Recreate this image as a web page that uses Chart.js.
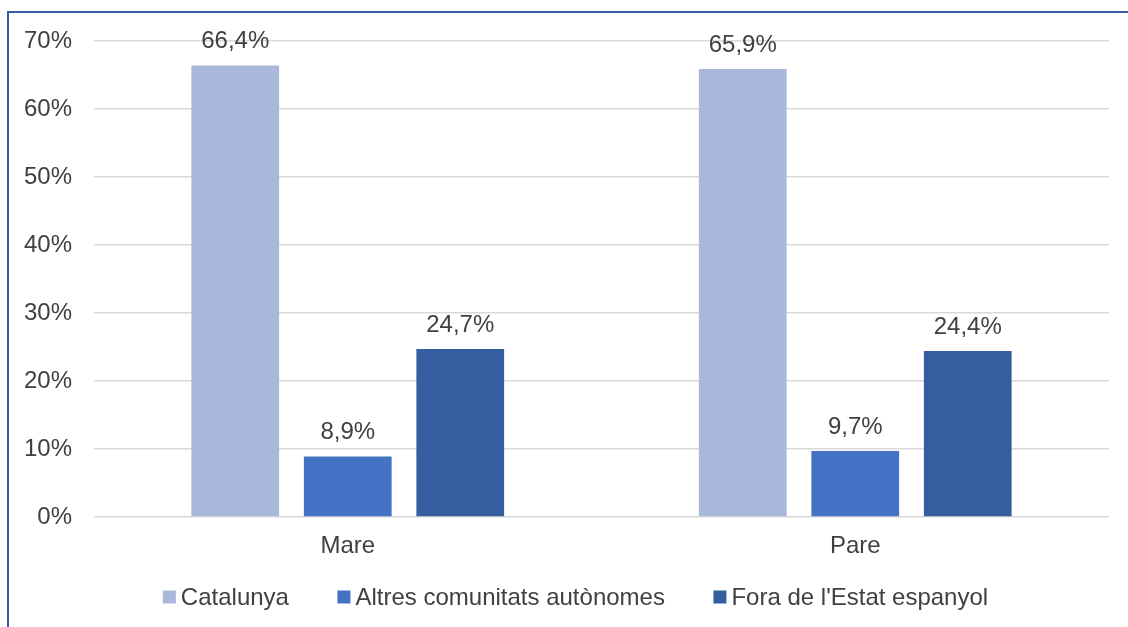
<!DOCTYPE html>
<html lang="ca">
<head>
<meta charset="UTF-8">
<title>Lloc de naixement dels pares</title>
<script src="https://cdn.jsdelivr.net/npm/chart.js"></script>
<style>
  html, body { margin: 0; padding: 0; background: #fff; }
  #wrap { position: relative; width: 1128px; height: 627px; overflow: hidden; }
  #frame { position: absolute; left: 7px; top: 11px; width: 1200px; height: 700px;
           border-top: 2px solid #3560a8; border-left: 2px solid #3560a8; box-sizing: border-box; }
  canvas { position: absolute; left: 0; top: 0; }
</style>
</head>
<body>
<div id="wrap">
  <div id="frame"></div>
  <canvas id="chart" width="1128" height="627"></canvas>
</div>
<script>
// dades
const categories = ['Mare', 'Pare'];
const seriesNames = ['Catalunya', 'Altres comunitats autònomes', "Fora de l'Estat espanyol"];
const catalunya = [66.4, 65.9];
const altres = [8.9, 9.7];
const fora = [24.7, 24.4];
const yTicks = [0, 10, 20, 30, 40, 50, 60, 70];
const colors = ['#a9b7db', '#4472c4', '#355d9f'];

const textColor = '#404040';
const fontFamily = '"Liberation Sans", Arial, sans-serif';
const fontSize = 24;

// etiquetes de valor damunt de cada barra
const valueLabels = {
    id: 'valueLabels',
    afterDatasetsDraw(chart) {
        const ctx = chart.ctx;
        ctx.save();
        ctx.font = fontSize + 'px ' + fontFamily;
        ctx.fillStyle = textColor;
        ctx.textAlign = 'center';
        ctx.textBaseline = 'alphabetic';
        chart.data.datasets.forEach((ds, i) => {
            chart.getDatasetMeta(i).data.forEach((bar, j) => {
                const txt = ds.data[j].toFixed(1).replace('.', ',') + '%';
                ctx.fillText(txt, bar.x, bar.y - 17);
            });
        });
        ctx.restore();
    }
};

// llegenda a sota, dibuixada a mà per controlar l'espaiat
const bottomLegend = {
    id: 'bottomLegend',
    afterDraw(chart) {
        const ctx = chart.ctx;
        const box = 13, gapText = 5, gapItem = 48.5, cy = 597, cx = 575.5;
        ctx.save();
        ctx.font = fontSize + 'px ' + fontFamily;
        const items = chart.data.datasets.map(ds => ({
            label: ds.label, color: ds.backgroundColor, w: ctx.measureText(ds.label).width
        }));
        const total = items.reduce((s, it) => s + box + gapText + it.w, 0) + gapItem * (items.length - 1);
        let x = cx - total / 2;
        ctx.textBaseline = 'middle';
        ctx.textAlign = 'left';
        items.forEach(it => {
            ctx.fillStyle = it.color;
            ctx.fillRect(x, cy - box / 2, box, box);
            x += box + gapText;
            ctx.fillStyle = textColor;
            ctx.fillText(it.label, x, cy + 1);
            x += it.w + gapItem;
        });
        ctx.restore();
    }
};

new Chart(document.getElementById('chart'), {
    type: 'bar',
    data: {
        labels: categories,
        datasets: [
            { label: seriesNames[0], data: catalunya, backgroundColor: colors[0] },
            { label: seriesNames[1], data: altres, backgroundColor: colors[1] },
            { label: seriesNames[2], data: fora, backgroundColor: colors[2] }
        ]
    },
    options: {
        responsive: false,
        animation: false,
        layout: { padding: { top: 41, right: 19, left: 0, bottom: 60 } },
        datasets: {
            bar: { categoryPercentage: 0.665, barPercentage: 0.78 }
        },
        scales: {
            y: {
                min: 0,
                max: 70,
                afterBuildTicks(axis) { axis.ticks = yTicks.map(v => ({ value: v })); },
                afterFit(axis) { axis.width = 94; },
                border: { display: false },
                grid: { color: '#d9d9d9', lineWidth: 1.5, drawTicks: false },
                ticks: {
                    padding: 22,
                    color: textColor,
                    font: { size: fontSize, family: fontFamily },
                    callback: v => v + '%'
                }
            },
            x: {
                afterFit(axis) { axis.height = 50; },
                border: { display: false },
                grid: { display: false, drawTicks: false },
                ticks: {
                    padding: 15,
                    color: textColor,
                    font: { size: fontSize, family: fontFamily }
                }
            }
        },
        plugins: {
            legend: { display: false },
            tooltip: { enabled: false }
        }
    },
    plugins: [valueLabels, bottomLegend]
});
</script>
</body>
</html>
